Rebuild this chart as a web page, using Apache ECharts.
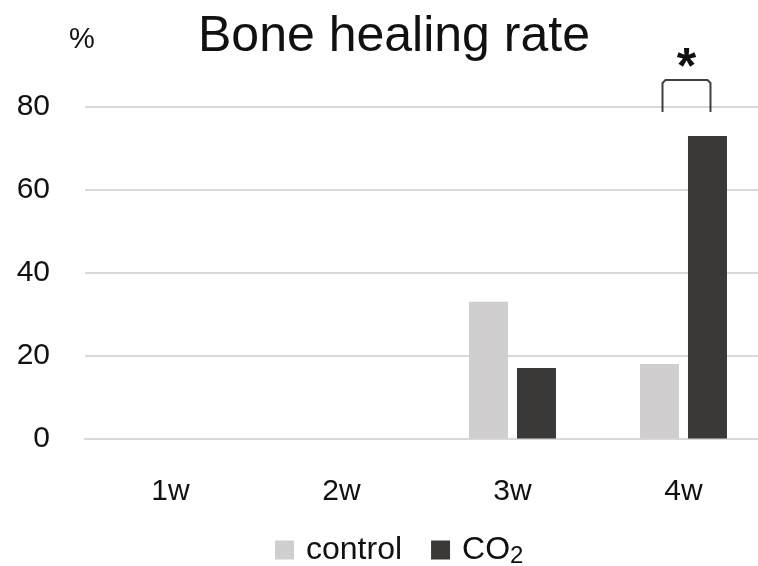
<!DOCTYPE html>
<html>
<head>
<meta charset="utf-8">
<script src="https://cdn.jsdelivr.net/npm/echarts@6/dist/echarts.min.js"></script>
<style>html,body{margin:0;padding:0;background:#fff}#c{width:758px;height:566px}</style>
</head>
<body>
<div id="c"></div>
<script>
var titleText = 'Bone healing rate';
var unitLabel = '%';
var categories = ['1w', '2w', '3w', '4w'];
var seriesNames = ['control', 'CO2'];
var controlValues = [0, 0, 33, 18];
var co2Values = [0, 0, 17, 73];
var yTicks = { min: 0, max: 80, interval: 20 };
// significance annotation: between control and CO2 at 4w
var sigCategoryIndex = 3;
var sigMark = '*';
var bracketTopValue = 86.5;
var bracketLegValue = 78.8;
var starValue = 89;

var FONT = '"Liberation Sans", Arial, sans-serif';
var chart = echarts.init(document.getElementById('c'), null, { renderer: 'canvas' });
var option = {
  backgroundColor: '#ffffff',
  animation: false,
  title: {
    text: titleText,
    left: 193, top: 7,
    textStyle: { fontFamily: FONT, fontSize: 50, fontWeight: 'normal', color: '#111' }
  },
  legend: {
    left: 275, top: 534, padding: 0,
    itemWidth: 19, itemHeight: 19, itemGap: 29,
    icon: 'rect',
    data: seriesNames,
    formatter: function (n) { return n === 'CO2' ? 'CO{sub|2}' : n; },
    textStyle: {
      fontFamily: FONT, fontSize: 32, color: '#111', padding: [0, 0, 0, 7],
      rich: { sub: { fontFamily: FONT, fontSize: 24, color: '#111', padding: [12, 0, 0, 0] } }
    }
  },
  grid: { left: 85, width: 684, top: 107, bottom: 127.5, containLabel: false, outerBoundsMode: 'none' },
  xAxis: {
    type: 'category',
    data: categories,
    axisLine: { show: true, lineStyle: { color: '#d9d9d9', width: 2 } },
    axisTick: { show: false },
    axisLabel: { fontFamily: FONT, fontSize: 30, color: '#111', margin: 38 },
    splitLine: { show: false }
  },
  yAxis: {
    type: 'value',
    min: yTicks.min, max: yTicks.max, interval: yTicks.interval,
    name: unitLabel,
    nameLocation: 'end',
    nameGap: 67,
    nameTextStyle: { fontFamily: FONT, fontSize: 29, color: '#111', align: 'center', verticalAlign: 'middle', padding: [0, 6, 0, 0] },
    axisLine: { show: false },
    axisTick: { show: false },
    axisLabel: { fontFamily: FONT, fontSize: 30, color: '#111', margin: 35 },
    splitLine: { show: true, lineStyle: { color: '#d9d9d9', width: 2 } }
  },
  series: [
    { name: seriesNames[0], type: 'bar', data: controlValues, barWidth: 39, barGap: '23%',
      itemStyle: { color: '#d0cece' } },
    { name: seriesNames[1], type: 'bar', data: co2Values, barWidth: 39,
      itemStyle: { color: '#3b3838' } }
  ]
};
chart.setOption(option);

function drawBracket() {
  var m = chart.getModel();
  var l0 = m.getSeriesByIndex(0).getData().getItemLayout(sigCategoryIndex);
  var l1 = m.getSeriesByIndex(1).getData().getItemLayout(sigCategoryIndex);
  var x0 = l0.x + l0.width / 2 + 3;
  var x1 = l1.x + l1.width / 2 + 3;
  var yTop = chart.convertToPixel({ yAxisIndex: 0 }, bracketTopValue);
  var yLeg = chart.convertToPixel({ yAxisIndex: 0 }, bracketLegValue);
  var yStar = chart.convertToPixel({ yAxisIndex: 0 }, starValue);
  var r = 3;
  chart.setOption({
    graphic: [
      { type: 'polyline',
        shape: { points: [[x0, yLeg], [x0, yTop + r], [x0 + r, yTop], [x1 - r, yTop], [x1, yTop + r], [x1, yLeg]] },
        style: { fill: null, stroke: '#404040', lineWidth: 2, lineJoin: 'round' } },
      { type: 'text', x: (x0 + x1) / 2, y: yStar,
        style: { text: sigMark, font: 'bold 50px ' + FONT, fill: '#111', align: 'center', verticalAlign: 'middle' } }
    ]
  });
}
drawBracket();
</script>
</body>
</html>
